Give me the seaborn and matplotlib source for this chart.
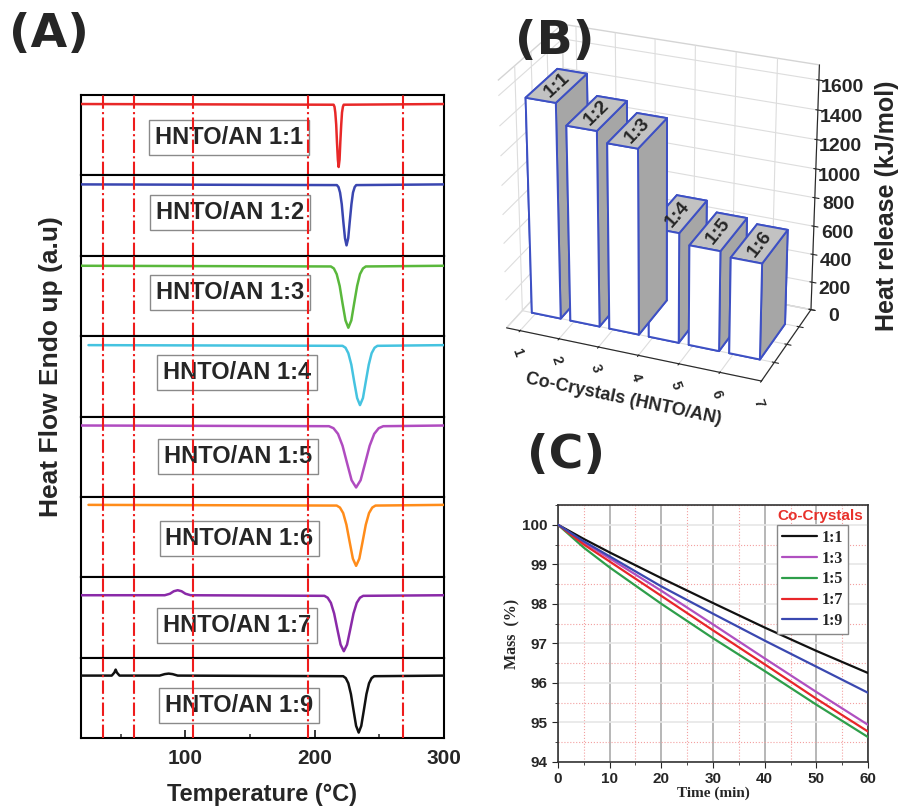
import numpy as np
import pandas as pd
import matplotlib
matplotlib.use("Agg")
import matplotlib.pyplot as plt
from matplotlib.lines import Line2D
from matplotlib.ticker import MultipleLocator
import seaborn as sns

sns.set_style("ticks")
plt.rcParams['font.family'] = ['Liberation Sans', 'DejaVu Sans']
plt.rcParams['font.weight'] = 'bold'
plt.rcParams['axes.labelweight'] = 'bold'

# ---------------- (A) DSC curves, baseline = 0, dip depth in px-like units
dsc_labels = ["HNTO/AN 1:1", "HNTO/AN 1:2", "HNTO/AN 1:3", "HNTO/AN 1:4",
              "HNTO/AN 1:5", "HNTO/AN 1:6", "HNTO/AN 1:7", "HNTO/AN 1:9"]
dsc_colors = ["#e82828", "#3a46b0", "#5ab83c", "#45c3e0",
              "#b04cc0", "#ff8c1a", "#8a2aa8", "#111111"]

t_11 = [19, 214.6, 215.3, 215.9, 216.6, 217.2, 217.9, 218.5, 219.2, 219.8, 220.5, 221.1, 221.8, 222.4, 300]
y_11 = [0, -0.7, -2.8, -8.5, -20.5, -38, -55.5, -63, -55.5, -38, -20.5, -8.5, -2.8, -0.7, 0]
t_12 = [19, 217.1, 218.4, 219.6, 220.9, 222.1, 223.4, 224.6, 225.9, 227.1, 228.4, 229.6, 230.9, 232.1, 300]
y_12 = [0, -0.7, -2.7, -8.2, -19.8, -37, -53.8, -61, -53.8, -37, -19.8, -8.2, -2.7, -0.7, 0]
t_13 = [19, 212.5, 214.8, 217, 219.3, 221.5, 223.8, 226, 228.3, 230.5, 232.8, 235, 237.3, 239.5, 300]
y_13 = [0, -0.7, -2.7, -8.4, -20.2, -37.6, -54.7, -62, -54.7, -37.6, -20.2, -8.4, -2.7, -0.7, 0]
t_14 = [25, 221.5, 223.8, 226, 228.3, 230.5, 232.8, 235, 237.3, 239.5, 241.8, 244, 246.3, 248.5, 300]
y_14 = [0, -0.7, -2.6, -8.1, -19.5, -36.4, -52.9, -60, -52.9, -36.4, -19.5, -8.1, -2.6, -0.7, 0]
t_15 = [19, 211, 214.5, 218, 221.5, 225, 228.5, 232, 235.5, 239, 242.5, 246, 249.5, 253, 300]
y_15 = [0, -0.7, -2.7, -8.4, -20.2, -37.6, -54.7, -62, -54.7, -37.6, -20.2, -8.4, -2.7, -0.7, 0]
t_16 = [25, 217, 219.5, 222, 224.5, 227, 229.5, 232, 234.5, 237, 239.5, 242, 244.5, 247, 300]
y_16 = [0, -0.7, -2.7, -8.2, -19.8, -37, -53.8, -61, -53.8, -37, -19.8, -8.2, -2.7, -0.7, 0]
t_17 = [19, 84, 88, 91, 94, 97, 100, 104, 207.5, 210, 212.5, 215, 217.5, 220, 222.5,
        225, 227.5, 230, 232.5, 235, 237.5, 300]
y_17 = [0, 0, 1.5, 4, 5, 4, 1.5, 0, -0.6, -2.5, -7.6, -18.2, -34, -49.4, -56,
        -49.4, -34, -18.2, -7.6, -2.5, -0.6, 0]
t_19 = [19, 43, 45, 46, 47, 49, 80, 84, 87, 90, 94, 222, 224, 226, 228, 230, 232, 234,
        236, 238, 240, 242, 244, 246, 300]
y_19 = [0, 0, 3, 6, 3, 0, 0, 1.5, 2, 1.5, 0, -0.6, -2.5, -7.7, -18.5, -34.6, -50.3, -57,
        -50.3, -34.6, -18.5, -7.7, -2.5, -0.6, 0]
dsc_t = [t_11, t_12, t_13, t_14, t_15, t_16, t_17, t_19]
dsc_y = [y_11, y_12, y_13, y_14, y_15, y_16, y_17, y_19]
ref_temps = [36, 60, 106, 195, 268]

# ---------------- (B) heat release
bar_pos = [1, 2, 3, 4, 5, 6]
bar_labels = ["1:1", "1:2", "1:3", "1:4", "1:5", "1:6"]
heat_release = [1500, 1360, 1290, 770, 700, 670]

# ---------------- (C) isothermal mass loss
time_min = [0, 5, 10, 20, 30, 40, 50, 60]
mass_11 = [100, 99.64, 99.30, 98.65, 98.02, 97.40, 96.81, 96.25]
mass_13 = [100, 99.55, 99.15, 98.33, 97.48, 96.62, 95.77, 94.94]
mass_15 = [100, 99.42, 98.92, 98.00, 97.13, 96.30, 95.45, 94.63]
mass_17 = [100, 99.50, 99.07, 98.20, 97.33, 96.47, 95.60, 94.77]
mass_19 = [100, 99.58, 99.20, 98.44, 97.75, 97.07, 96.41, 95.75]
ratio_names = ["1:1", "1:3", "1:5", "1:7", "1:9"]
ratio_colors = ["#111111", "#b050c0", "#2e9e4a", "#e8262a", "#3a48b0"]

fig = plt.figure(figsize=(9.01, 8.06), dpi=100)

# ======================= panel B (drawn first, transparent) =======================
ax3 = fig.add_axes([0.491, 0.471, 0.47, 0.55], projection="3d")
ax3.patch.set_visible(False)
top_c, side_c = "#c2c2c2", "#a6a6a6"
face_cols = [side_c, top_c, "white", side_c, side_c, side_c]
for x, h, lab in zip(bar_pos, heat_release, bar_labels):
    ax3.bar3d(x - 0.1, 0.35, 0, 0.75, 0.7, h, color=face_cols, edgecolor="#3d50c4",
              shade=False, linewidth=1.4)
    ax3.text(x + 0.275, 0.7, h, lab, zdir=(0, 1, 0), ha="center", va="center",
             fontsize=14, fontweight="bold", zorder=20)
ax3.set_xlim(0.65, 7)
ax3.set_ylim(0, 1.4)
ax3.set_zlim(0, 1700)
ax3.set_xticks(range(1, 8))
ax3.set_yticks([0.35, 0.7, 1.05, 1.4])
ax3.set_yticklabels([])
ax3.set_zticks(range(0, 1601, 200))
ax3.view_init(elev=27, azim=-68)
ax3.set_box_aspect((2.0, 1.1, 2.0), zoom=0.96)
for axis in (ax3.xaxis, ax3.yaxis, ax3.zaxis):
    axis.pane.set_facecolor((1, 1, 1, 0))
    axis.pane.set_edgecolor("#aaaaaa")
    axis._axinfo["grid"]["color"] = "#dddddd"
    axis._axinfo["grid"]["linewidth"] = 0.8
ax3.zaxis.set_ticks_position("upper")
ax3.tick_params(axis="z", labelsize=14, pad=4)
ax3.tick_params(axis="x", labelsize=10, pad=0)
for lbl in ax3.get_xticklabels():
    lbl.set_rotation(-70)
ax3.set_xlabel("Co-Crystals (HNTO/AN)", fontsize=13, fontweight="bold", labelpad=2)
fig.text(0.984, 0.745, "Heat release (kJ/mol)", rotation=90, ha="center", va="center",
         fontsize=18, fontweight="bold")

# ======================= panel A =======================
a_left, a_width, a_top, a_height = 0.0896, 0.4032, 0.8821, 0.7977
ph = a_height / 8
base_off = [9, 9, 10, 9, 9, 8, 18, 18]
box_x = [0.408, 0.411, 0.411, 0.429, 0.433, 0.437, 0.430, 0.436]
box_y = [0.47, 0.54, 0.54, 0.55, 0.50, 0.48, 0.40, 0.40]
for i in range(8):
    ax = fig.add_axes([a_left, a_top - (i + 1) * ph, a_width, ph])
    sns.lineplot(x=dsc_t[i], y=dsc_y[i], ax=ax, color=dsc_colors[i], lw=1.8, zorder=4)
    ax.set_xlim(19, 300)
    ax.set_ylim(base_off[i] - 80.4, base_off[i])
    for t in ref_temps:
        ax.axvline(t, color="#ee1c1c", ls="-.", lw=1.5, zorder=6)
    ax.text(box_x[i], box_y[i], dsc_labels[i], transform=ax.transAxes, ha="center",
            va="center", fontsize=17, fontweight="bold", zorder=5,
            bbox=dict(boxstyle="square,pad=0.25", fc="white", ec="#8a8a8a", lw=1))
    ax.set_yticks([])
    ax.set_ylabel("")
    for s in ax.spines.values():
        s.set_linewidth(1.5)
        s.set_color("black")
    if i < 7:
        ax.set_xticks([])
    else:
        ax.set_xticks([100, 200, 300])
        ax.xaxis.set_minor_locator(MultipleLocator(50))
        ax.tick_params(axis="x", which="major", direction="in", length=6, width=1.3,
                       labelsize=15, pad=8)
        ax.tick_params(axis="x", which="minor", direction="in", length=3, width=1.1)
        ax.set_xlabel("Temperature (°C)", fontsize=17, fontweight="bold", labelpad=11)

fig.text(0.057, 0.545, "Heat Flow Endo up (a.u)", rotation=90, ha="center", va="center",
         fontsize=19, fontweight="bold")

# ======================= panel C =======================
axc = fig.add_axes([0.6193, 0.0546, 0.3441, 0.3189])
mass_series = [mass_11, mass_13, mass_15, mass_17, mass_19]
df = pd.DataFrame({
    "time": np.tile(time_min, len(ratio_names)),
    "mass": np.concatenate(mass_series),
    "ratio": np.repeat(ratio_names, len(time_min)),
})
sns.lineplot(data=df, x="time", y="mass", hue="ratio", palette=ratio_colors, ax=axc,
             lw=1.6, legend=False, zorder=4)
axc.set_xlim(0, 60)
axc.set_ylim(94, 100.5)
axc.xaxis.set_major_locator(MultipleLocator(10))
axc.xaxis.set_minor_locator(MultipleLocator(5))
axc.yaxis.set_major_locator(MultipleLocator(1))
axc.yaxis.set_minor_locator(MultipleLocator(0.5))
axc.xaxis.grid(True, which="major", color="#aaaaaa", lw=1.2)
axc.yaxis.grid(True, which="major", color="#e6e6e6", lw=1.2)
axc.grid(True, which="minor", color="#f3a0a0", ls=":", lw=0.8)
axc.set_axisbelow(True)
for s in axc.spines.values():
    s.set_linewidth(1.2)
    s.set_color("#333333")
axc.tick_params(which="major", direction="out", length=4, labelsize=11)
axc.tick_params(which="minor", direction="out", length=2)
axc.set_xlabel("Time (min)", fontsize=11, fontweight="bold", family="Liberation Serif", labelpad=0)
axc.set_ylabel("Mass  (%)", fontsize=11.5, fontweight="bold", family="Liberation Serif", labelpad=1)
handles = [Line2D([], [], color=c, lw=1.6) for c in ratio_colors]
axc.legend(handles, ratio_names, loc="upper right", bbox_to_anchor=(0.935, 0.922),
           borderaxespad=0, fancybox=False, edgecolor="#888888", framealpha=1,
           handlelength=2.2, labelspacing=0.3, borderpad=0.3, handletextpad=0.3,
           prop={"family": "Liberation Serif", "weight": "bold", "size": 11.5})
axc.text(0.845, 0.957, "Co-Crystals", transform=axc.transAxes, ha="center", va="center",
         color="#e8302a", fontsize=11, fontweight="bold")

# panel tags
for tag, x, y in [("(A)", 0.054, 0.957), ("(B)", 0.616, 0.948), ("(C)", 0.628, 0.435)]:
    fig.text(x, y, tag, ha="center", va="center", fontsize=34, fontweight="bold",
             family="DejaVu Sans")

fig.savefig("out.png", dpi=100)
